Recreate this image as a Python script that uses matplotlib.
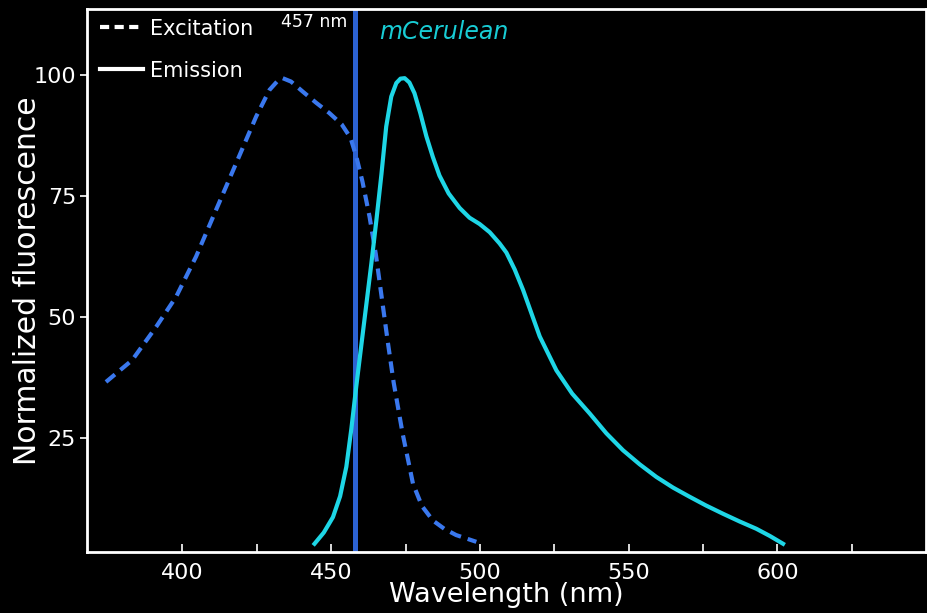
import matplotlib.pyplot as plt
from matplotlib.lines import Line2D

# excitation spectrum (dashed)
exc_nm = [374.3, 383.1, 391.2, 397.9, 404.6, 411.3, 418.1, 424.8, 429.3, 431.8, 433.7, 436.5,
          440.5, 445.0, 449.4, 453.5, 456.5, 458.5, 460.5, 462.9, 465.0, 467.0, 469.0, 471.0,
          474.0, 477.5, 480.5, 484.2, 488.0, 492.0, 498.8]
exc_val = [36.6, 41.1, 48.0, 54.2, 62.5, 72.1, 81.8, 91.4, 96.9, 98.6, 99.3, 98.6,
           96.5, 94.2, 92.1, 89.8, 87.0, 83.0, 78.0, 70.7, 63.0, 54.0, 45.0, 36.5,
           26.0, 15.6, 11.0, 8.0, 6.3, 5.0, 3.6]

# emission spectrum (solid)
em_nm = [444.4, 447.5, 450.6, 453.0, 455.1, 456.8, 458.4, 460.1, 461.8, 463.5, 465.2, 466.9,
         468.5, 470.2, 471.9, 473.3, 474.7, 476.3, 478.0, 480.0, 482.0, 484.2, 486.4, 489.5,
         493.2, 496.5, 499.9, 503.3, 506.6, 508.9, 511.7, 514.5, 517.3, 520.1, 525.7, 531.0,
         536.9, 542.5, 548.1, 553.7, 559.3, 564.9, 570.5, 576.0, 581.7, 587.3, 592.9, 597.5, 601.9]
em_val = [3.2, 5.5, 8.7, 13.0, 19.1, 27.0, 35.5, 44.0, 52.5, 61.0, 70.0, 79.5,
          89.3, 95.5, 98.3, 99.2, 99.3, 98.4, 96.2, 92.0, 87.3, 83.0, 79.2, 75.5,
          72.5, 70.5, 69.2, 67.5, 65.2, 63.3, 59.8, 55.6, 50.8, 46.0, 39.0, 34.2,
          30.1, 26.0, 22.5, 19.6, 17.0, 14.8, 12.9, 11.1, 9.4, 7.8, 6.3, 4.8, 3.2]

laser_nm = 457
xticks = [400, 425, 450, 475, 500, 525, 550, 575, 600, 625]
xticklabels = ['400', '', '450', '', '500', '', '550', '', '600', '']
yticks = [25, 50, 75, 100]

fig = plt.figure(figsize=(9.28, 6.13), dpi=100, facecolor='black')
ax = fig.add_axes([0.094, 0.0995, 0.904, 0.886], facecolor='black')

# laser line drawn a touch right of 457 to sit where the reference puts it
ax.axvline(laser_nm + 1, color='#2c62d2', lw=3.6, zorder=1)
ax.plot(exc_nm, exc_val, color='#3a78ee', lw=3, dashes=(2.8, 1.7), zorder=2)
ax.plot(em_nm, em_val, color='#1ed6e6', lw=3, solid_joinstyle='round', zorder=3)

ax.set_xlim(368, 650)
ax.set_ylim(1.5, 113.6)
ax.set_xticks(xticks)
ax.set_xticklabels(xticklabels)
ax.set_yticks(yticks)
ax.tick_params(axis='x', direction='in', length=6, width=1.2, colors='white', labelsize=16, pad=8)
ax.tick_params(axis='y', direction='out', length=5, width=1.2, colors='white', labelsize=16, pad=3)
for s in ax.spines.values():
    s.set_color('white')
    s.set_linewidth(2)

ax.set_xlabel('Wavelength (nm)', color='white', fontsize=19.5, labelpad=-1)
ax.set_ylabel('Normalized fluorescence', color='white', fontsize=21.5, labelpad=-6)

ax.text(455.3, 110.9, '457 nm', color='white', fontsize=12.5, ha='right', va='center')
ax.text(466.0, 108.9, 'mCerulean', color='#18ccd4', fontsize=17, style='italic',
        ha='left', va='center')

handles = [Line2D([], [], color='white', lw=3, dashes=(2.2, 1.3)),
           Line2D([], [], color='white', lw=3)]
leg = ax.legend(handles, ['Excitation', 'Emission'], loc='upper left', frameon=False,
                fontsize=15, handlelength=2.1, handletextpad=0.3, labelspacing=1.05,
                borderaxespad=0.2, bbox_to_anchor=(0.0, 1.005))
for t in leg.get_texts():
    t.set_color('white')

fig.savefig('out.png', dpi=100, facecolor='black')
